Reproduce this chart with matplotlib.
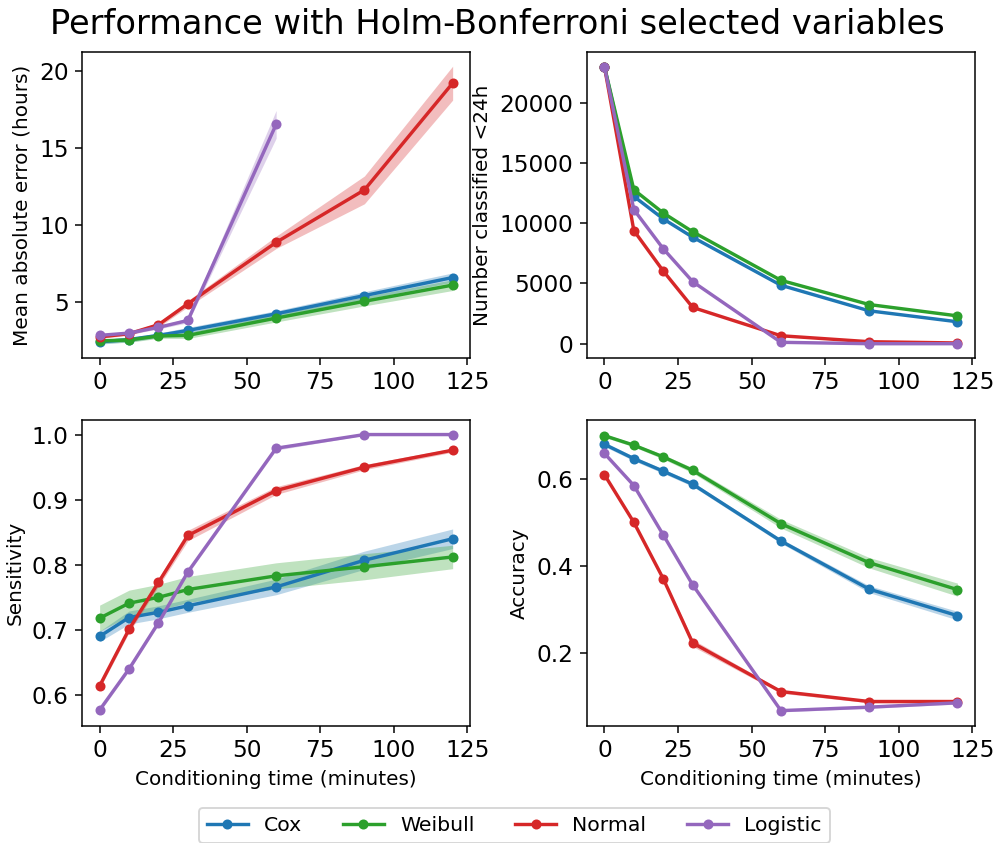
import numpy as np
import matplotlib
matplotlib.use('Agg')
import matplotlib.pyplot as plt

# conditioning times (minutes)
times = [0, 10, 20, 30, 60, 90, 120]
models = ['Cox', 'Weibull', 'Normal', 'Logistic']
colors = ['tab:blue', 'tab:green', 'tab:red', 'tab:purple']

# mean absolute error (hours), logistic only up to 60 min
mae_cox = [2.43, 2.58, 2.85, 3.17, 4.25, 5.43, 6.60]
mae_weibull = [2.49, 2.55, 2.81, 2.85, 3.97, 5.06, 6.11]
mae_normal = [2.75, 2.96, 3.54, 4.90, 8.88, 12.28, 19.20]
mae_logistic = [2.85, 3.00, 3.37, 3.82, 16.53]
mae_err_cox = [0.15, 0.15, 0.15, 0.2, 0.2, 0.25, 0.3]
mae_err_weibull = [0.15, 0.15, 0.15, 0.2, 0.25, 0.3, 0.35]
mae_err_normal = [0.1, 0.1, 0.15, 0.2, 0.4, 0.9, 1.1]
mae_err_logistic = [0.1, 0.1, 0.1, 0.15, 0.9]

# number classified <24h
n_cox = [23000, 12230, 10360, 8840, 4850, 2730, 1820]
n_weibull = [23000, 12780, 10850, 9290, 5260, 3250, 2310]
n_normal = [23000, 9390, 6030, 3010, 660, 165, 60]
n_logistic = [23000, 11130, 7880, 5150, 115, 0, 0]
n_err = [40, 40, 40, 40, 40, 40, 40]

# sensitivity
sens_cox = [0.690, 0.719, 0.727, 0.737, 0.766, 0.807, 0.840]
sens_weibull = [0.718, 0.741, 0.750, 0.762, 0.783, 0.797, 0.812]
sens_normal = [0.614, 0.701, 0.773, 0.845, 0.914, 0.950, 0.976]
sens_logistic = [0.577, 0.640, 0.711, 0.789, 0.979, 1.000, 1.000]
sens_err_cox = [0.008, 0.01, 0.01, 0.01, 0.012, 0.014, 0.015]
sens_err_weibull = [0.02, 0.02, 0.02, 0.02, 0.02, 0.02, 0.018]
sens_err_normal = [0.004, 0.005, 0.006, 0.008, 0.006, 0.004, 0.003]
sens_err_logistic = [0.003, 0.003, 0.003, 0.003, 0.003, 0.001, 0.001]

# accuracy
acc_cox = [0.681, 0.648, 0.619, 0.589, 0.458, 0.347, 0.286]
acc_weibull = [0.701, 0.679, 0.652, 0.621, 0.498, 0.408, 0.346]
acc_normal = [0.611, 0.501, 0.371, 0.223, 0.111, 0.088, 0.088]
acc_logistic = [0.660, 0.586, 0.472, 0.357, 0.067, 0.075, 0.085]
acc_err_cox = [0.005, 0.005, 0.005, 0.005, 0.005, 0.008, 0.01]
acc_err_weibull = [0.004, 0.004, 0.005, 0.006, 0.01, 0.012, 0.015]
acc_err_normal = [0.003, 0.003, 0.004, 0.008, 0.004, 0.003, 0.003]
acc_err_logistic = [0.003, 0.003, 0.003, 0.003, 0.003, 0.003, 0.003]

x_ticks = [0, 25, 50, 75, 100, 125]
mae_ticks = [5, 10, 15, 20]
n_ticks = [0, 5000, 10000, 15000, 20000]
sens_ticks = [0.6, 0.7, 0.8, 0.9, 1.0]
acc_ticks = [0.2, 0.4, 0.6]

panels = [
    ('Mean absolute error (hours)',
     [mae_cox, mae_weibull, mae_normal, mae_logistic],
     [mae_err_cox, mae_err_weibull, mae_err_normal, mae_err_logistic], mae_ticks),
    ('Number classified <24h',
     [n_cox, n_weibull, n_normal, n_logistic],
     [n_err, n_err, n_err, n_err], n_ticks),
    ('Sensitivity',
     [sens_cox, sens_weibull, sens_normal, sens_logistic],
     [sens_err_cox, sens_err_weibull, sens_err_normal, sens_err_logistic], sens_ticks),
    ('Accuracy',
     [acc_cox, acc_weibull, acc_normal, acc_logistic],
     [acc_err_cox, acc_err_weibull, acc_err_normal, acc_err_logistic], acc_ticks),
]

plt.rcParams['font.size'] = 10.6
plt.rcParams['xtick.labelsize'] = 12.3
plt.rcParams['ytick.labelsize'] = 12.3

dpi = 136
fig, axes = plt.subplots(2, 2, figsize=(995 / dpi, 843 / dpi), dpi=dpi)
fig.subplots_adjust(left=0.0824, right=0.98, top=0.938, bottom=0.139,
                    wspace=0.30, hspace=0.2025)

for i, (ylabel, series, errs, yt) in enumerate(panels):
    ax = axes.flat[i]
    for name, col, ys, es in zip(models, colors, series, errs):
        x = np.array(times[:len(ys)])
        y = np.array(ys, dtype=float)
        e = np.array(es, dtype=float)
        ax.plot(x, y, '-o', color=col, lw=1.8, ms=4.3, label=name)
        ax.fill_between(x, y - e, y + e, color=col, alpha=0.3, lw=0)
    ax.set_ylabel(ylabel)
    ax.set_xticks(x_ticks)
    ax.set_yticks(yt)
    if i >= 2:
        ax.set_xlabel('Conditioning time (minutes)')

fig.suptitle('Performance with Holm-Bonferroni selected variables', fontsize=17.8, y=0.99)
handles, labels = axes[0, 0].get_legend_handles_labels()
fig.legend(handles, labels, loc='lower center', ncol=4, bbox_to_anchor=(0.517, -0.012),
           fontsize=10.8, columnspacing=2.0, handlelength=2.0, handletextpad=0.8)

fig.savefig('out.png', dpi=dpi)
